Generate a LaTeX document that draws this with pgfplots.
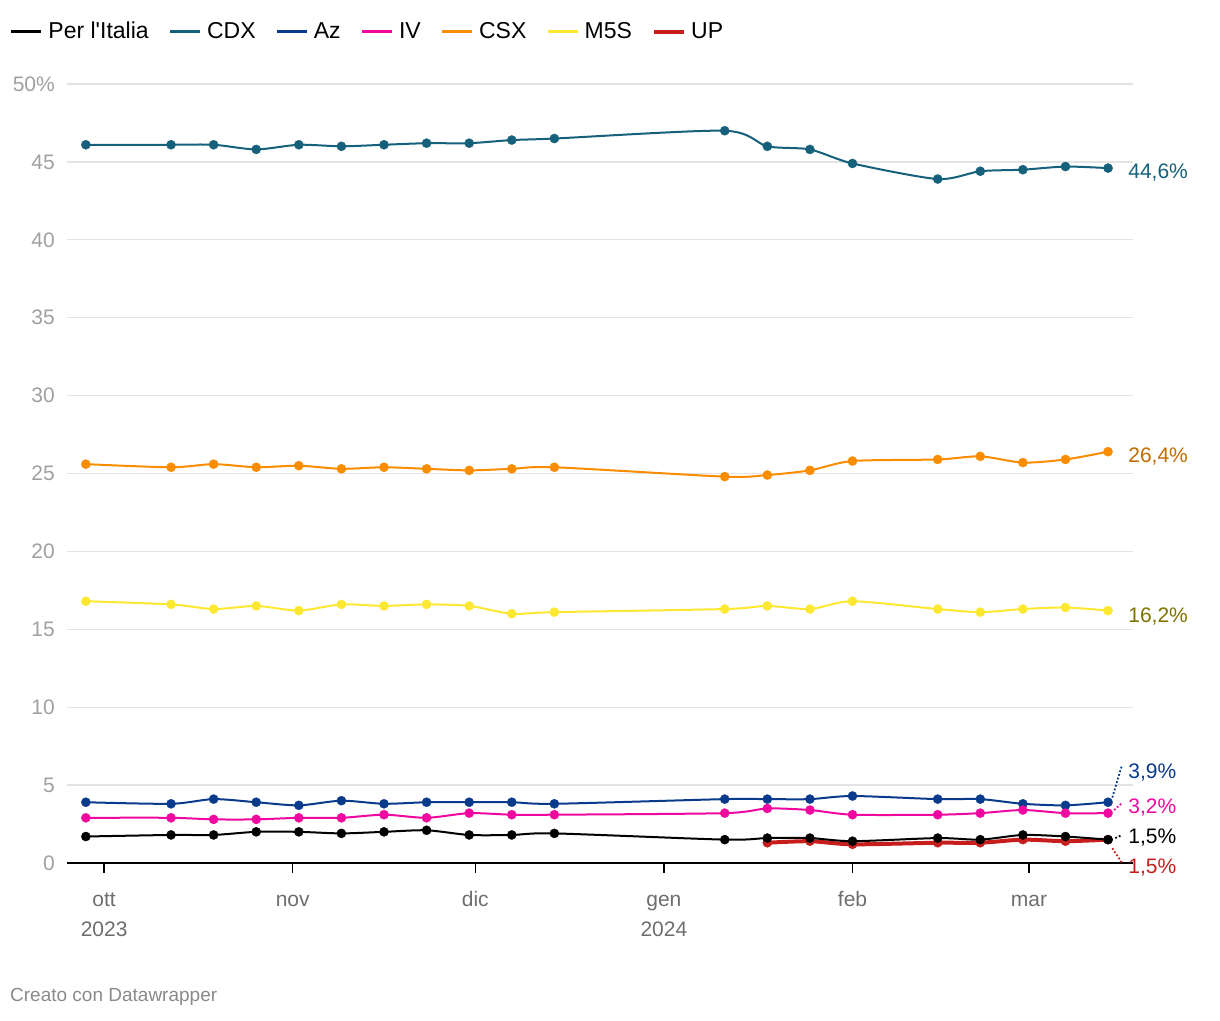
\documentclass[border=0pt]{standalone}
\usepackage{pgfplots}
\pgfplotsset{compat=1.18}
\usepackage{fontspec}
\setmainfont{Liberation Sans}
\definecolor{cPI}{HTML}{000000}
\definecolor{cCDX}{HTML}{15607A}
\definecolor{cAz}{HTML}{0A3A8C}
\definecolor{cIV}{HTML}{F0079F}
\definecolor{cCSX}{HTML}{FA8C00}
\definecolor{cM5S}{HTML}{FCE830}
\definecolor{cUP}{HTML}{C71E1D}
\definecolor{lCSX}{HTML}{C26A00}
\definecolor{lM5S}{HTML}{7F7300}
\definecolor{gridc}{HTML}{E3E3E3}
\definecolor{ytc}{HTML}{A0A0A0}
\definecolor{xtc}{HTML}{6E6E6E}
\definecolor{credc}{HTML}{8A8A8A}

\pgfplotstableread{
d PI CDX Az IV CSX M5S
-3 1.7 46.1 3.9 2.9 25.6 16.8
11 1.8 46.1 3.8 2.9 25.4 16.6
18 1.8 46.1 4.1 2.8 25.6 16.3
25 2.0 45.8 3.9 2.8 25.4 16.5
32 2.0 46.1 3.7 2.9 25.5 16.2
39 1.9 46.0 4.0 2.9 25.3 16.6
46 2.0 46.1 3.8 3.1 25.4 16.5
53 2.1 46.2 3.9 2.9 25.3 16.6
60 1.8 46.2 3.9 3.2 25.2 16.5
67 1.8 46.4 3.9 3.1 25.3 16.0
74 1.9 46.5 3.8 3.1 25.4 16.1
102 1.5 47.0 4.1 3.2 24.8 16.3
109 1.6 46.0 4.1 3.5 24.9 16.5
116 1.6 45.8 4.1 3.4 25.2 16.3
123 1.4 44.9 4.3 3.1 25.8 16.8
137 1.6 43.9 4.1 3.1 25.9 16.3
144 1.5 44.4 4.1 3.2 26.1 16.1
151 1.8 44.5 3.8 3.4 25.7 16.3
158 1.7 44.7 3.7 3.2 25.9 16.4
165 1.5 44.6 3.9 3.2 26.4 16.2
}\main

\pgfplotstableread{
d UP
109 1.3
116 1.4
123 1.2
137 1.3
144 1.3
151 1.5
158 1.4
165 1.5
}\up

\begin{document}
\fontsize{21}{25}\selectfont
\begin{tikzpicture}[x=1pt,y=1pt]
\useasboundingbox (0,0) rectangle (1220,1020);
\begin{axis}[
  at={(67pt,157pt)}, anchor=south west,
  scale only axis, width=1066pt, height=779pt,
  xmin=-6.1, xmax=169.1, ymin=0, ymax=50,
  axis x line*=bottom, axis y line*=left,
  x axis line style={black, line width=2.5pt, -},
  y axis line style={draw=none},
  ytick={0,5,...,50},
  yticklabels={0,5,10,15,20,25,30,35,40,45,50\%},
  yticklabel style={text=ytc, anchor=east, xshift=5pt},
  ytick style={draw=none},
  ymajorgrids,
  major grid style={gridc, line width=1.3pt},
  xtick={0,31,61,92,123,152},
  xticklabels={{\strut ott\\2023},{\strut nov},{\strut dic},{\strut gen\\2024},{\strut feb},{\strut mar}},
  xticklabel style={align=center, anchor=north, text=xtc, font=\fontsize{21}{30}\selectfont, yshift=-5pt},
  xtick style={black, line width=1.5pt},
  tick align=outside,
  major tick length=10pt,
  /pgf/number format/assume math mode=true,
  clip=false,
  every axis plot/.append style={smooth, tension=0.45, line width=2pt, mark=*, mark size=4.6pt, mark options={line width=0.3pt}},
  legend columns=7,
  legend style={at={(-0.0535,1.067)}, anchor=west, draw=none, fill=none, inner sep=0pt,
    /tikz/every even column/.append style={column sep=18pt},
    nodes={inner sep=2pt, text=black, font=\fontsize{23}{27}\selectfont}},
  legend cell align=left,
  legend image code/.code={\draw[#1, mark=none, line width=2.6pt] (0pt,0pt) -- (30pt,0pt); \path (34pt,0pt);},
]
\addplot[cUP, line width=4pt, forget plot] table[x=d,y=UP]{\up};
\addplot[cPI] table[x=d,y=PI]{\main};
\addlegendentry{Per l\textquotesingle Italia}
\addplot[cCDX] table[x=d,y=CDX]{\main};
\addlegendentry{CDX}
\addplot[cAz] table[x=d,y=Az]{\main};
\addlegendentry{Az}
\addplot[cIV] table[x=d,y=IV]{\main};
\addlegendentry{IV}
\addplot[cCSX] table[x=d,y=CSX]{\main};
\addlegendentry{CSX}
\addplot[cM5S] table[x=d,y=M5S]{\main};
\addlegendentry{M5S}
\addlegendimage{legend image code/.code={\draw[cUP, line width=4.5pt] (0pt,0pt) -- (30pt,0pt); \path (34pt,0pt);}}
\addlegendentry{UP}

\draw[cAz, dotted, line width=1.8pt] (axis cs:165.7,4.2) -- (axis cs:167.3,6.3);
\draw[cIV, dotted, line width=1.8pt] (axis cs:166,3.4) -- (axis cs:167.3,3.85);
\draw[black, dotted, line width=1.8pt] (axis cs:166.2,1.6) -- (axis cs:167.3,1.8);
\draw[cUP, dotted, line width=1.8pt] (axis cs:165.7,0.95) -- (axis cs:167.3,0);

\node[anchor=west, inner sep=0pt, text=cCDX] at (axis cs:168.3,44.35) {44,6\%};
\node[anchor=west, inner sep=0pt, text=lCSX] at (axis cs:168.3,26.12) {26,4\%};
\node[anchor=west, inner sep=0pt, text=lM5S] at (axis cs:168.3,15.85) {16,2\%};
\node[anchor=west, inner sep=0pt, text=cAz] at (axis cs:168.3,5.84) {3,9\%};
\node[anchor=west, inner sep=0pt, text=cIV] at (axis cs:168.3,3.53) {3,2\%};
\node[anchor=west, inner sep=0pt, text=black] at (axis cs:168.3,1.62) {1,5\%};
\node[anchor=west, inner sep=0pt, text=cUP] at (axis cs:168.3,-0.32) {1,5\%};
\end{axis}
\node[anchor=west, inner sep=0pt, text=credc, font=\fontsize{19}{22}\selectfont] at (10,23) {Creato con Datawrapper};
\end{tikzpicture}
\end{document}
